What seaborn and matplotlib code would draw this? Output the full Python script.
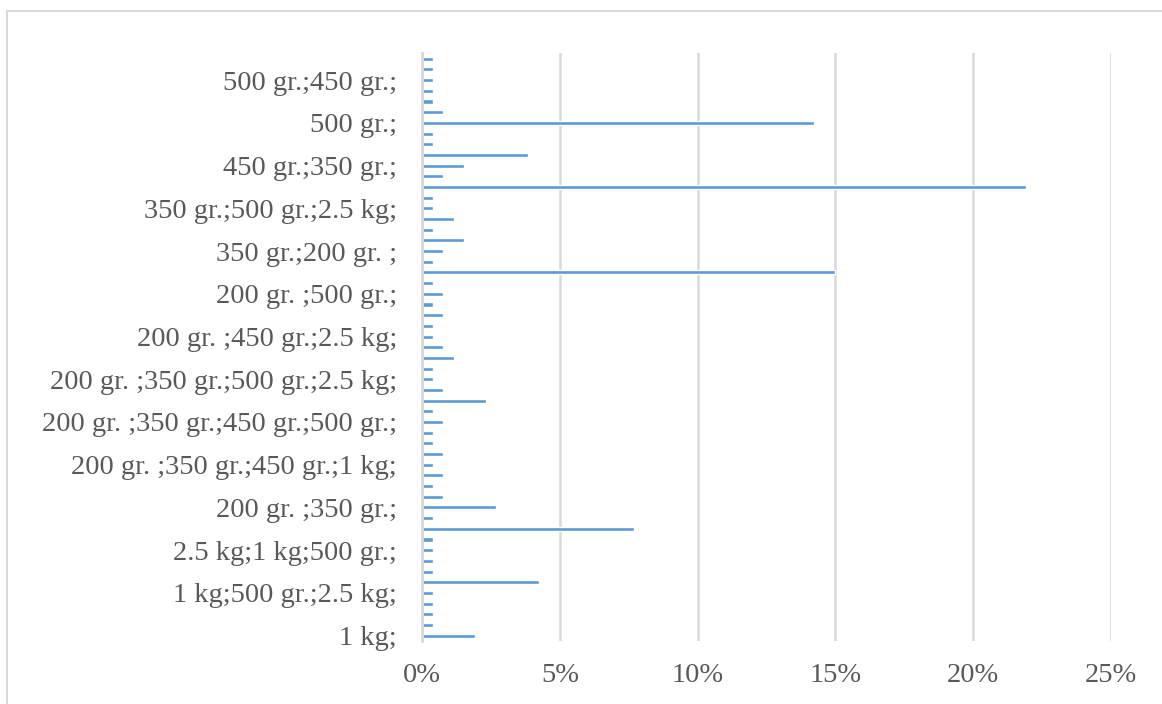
import pandas as pd
import matplotlib.pyplot as plt
import seaborn as sns
from matplotlib.patches import Rectangle
from matplotlib.ticker import FuncFormatter


# share of answers per size combination, rows listed top to bottom
pct_rows_0_13 = [0.38, 0.38, 0.38, 0.38, 0.38, 0.77, 14.23, 0.38, 0.38, 3.85, 1.54, 0.77, 21.92, 0.38]
pct_rows_14_27 = [0.38, 1.15, 0.38, 1.54, 0.77, 0.38, 15.0, 0.38, 0.77, 0.38, 0.77, 0.38, 0.38, 0.77]
pct_rows_28_41 = [1.15, 0.38, 0.38, 0.77, 2.31, 0.38, 0.77, 0.38, 0.38, 0.77, 0.38, 0.77, 0.38, 0.77]
pct_rows_42_54 = [2.69, 0.38, 7.69, 0.38, 0.38, 0.38, 0.38, 4.23, 0.38, 0.38, 0.38, 0.38, 1.92]

# only every 4th category name is shown on the axis
label_rows = [2, 6, 10, 14, 18, 22, 26, 30, 34, 38, 42, 46, 50, 54]
labels = [
    "500 gr.;450 gr.;",
    "500 gr.;",
    "450 gr.;350 gr.;",
    "350 gr.;500 gr.;2.5 kg;",
    "350 gr.;200 gr. ;",
    "200 gr. ;500 gr.;",
    "200 gr. ;450 gr.;2.5 kg;",
    "200 gr. ;350 gr.;500 gr.;2.5 kg;",
    "200 gr. ;350 gr.;450 gr.;500 gr.;",
    "200 gr. ;350 gr.;450 gr.;1 kg;",
    "200 gr. ;350 gr.;",
    "2.5 kg;1 kg;500 gr.;",
    "1 kg;500 gr.;2.5 kg;",
    "1 kg;",
]
xticks = [0, 5, 10, 15, 20, 25]

pct = pct_rows_0_13 + pct_rows_14_27 + pct_rows_28_41 + pct_rows_42_54
df = pd.DataFrame({"row": list(range(len(pct))), "pct": pct})

sns.set_style("white")
plt.rcParams["font.family"] = ["Liberation Serif", "DejaVu Serif"]

fig = plt.figure(figsize=(11.62, 7.04), dpi=100)
ax = fig.add_axes([0.3632, 0.0895, 0.5929, 0.8346])

sns.barplot(data=df, x="pct", y="row", orient="h", color="#5b9bd5",
            width=0.38, saturation=1, ax=ax)

ax.set_xlim(0, 25)
ax.set_xticks(xticks)
ax.xaxis.set_major_formatter(FuncFormatter(lambda v, p: f"{v:.0f}%"))
ax.set_yticks(label_rows)
ax.set_yticklabels(labels)
ax.set_xlabel("")
ax.set_ylabel("")

ax.grid(axis="x", color="#d9d9d9", linewidth=1.8)
ax.set_axisbelow(True)
for side in ["top", "right", "bottom"]:
    ax.spines[side].set_visible(False)
ax.spines["left"].set_color("#d9d9d9")
ax.spines["left"].set_linewidth(2)

ax.tick_params(axis="both", length=0, labelsize=20.5, labelcolor="#595959")
ax.tick_params(axis="y", pad=18)
ax.tick_params(axis="x", pad=16)

# chart frame, cut off on the right and bottom
fig.patches.append(Rectangle((7 / 1162, -0.1), 1.2, (704 - 11) / 704 + 0.1,
                             transform=fig.transFigure, fill=False,
                             edgecolor="#d9d9d9", linewidth=1.5))

fig.savefig("out.png", dpi=100)
